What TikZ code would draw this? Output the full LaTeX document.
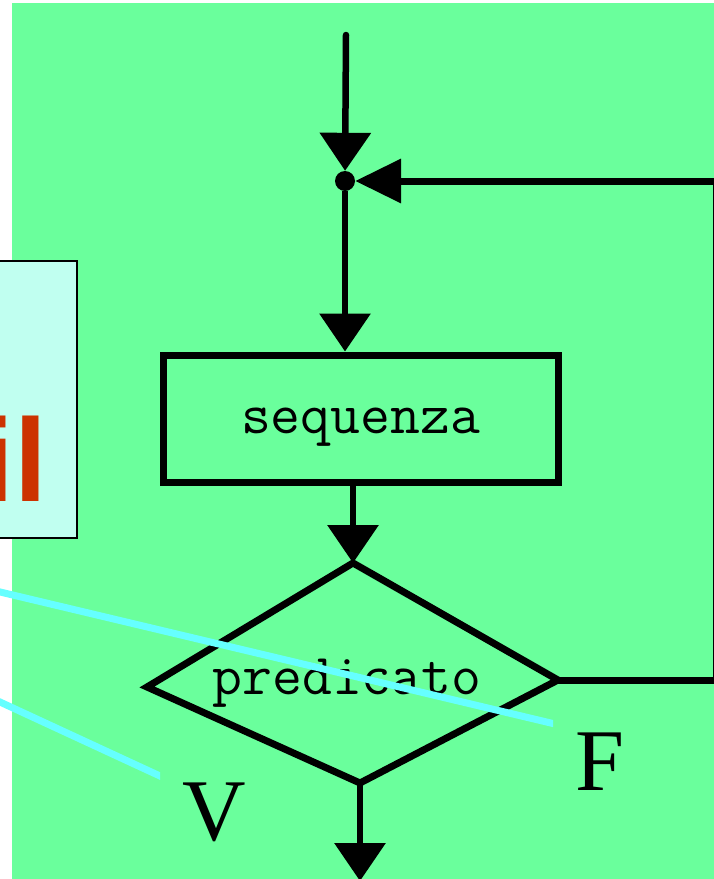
\documentclass[tikz,border=0pt]{standalone}
\usepackage{fontspec}
\setmainfont{Liberation Serif}
\newfontfamily\sansbold{Liberation Sans}
\usetikzlibrary{arrows.meta}
\definecolor{bg}{RGB}{106,255,156}
\definecolor{notefill}{RGB}{192,255,240}
\definecolor{notered}{RGB}{204,51,0}
\definecolor{cyanl}{RGB}{102,255,255}
\begin{document}
\begin{tikzpicture}[x=1pt,y=-1pt,
  conn/.style={draw=black, line width=6.5pt},
  varr/.style={conn, -{Triangle[length=38pt,width=50pt]}},
  harr/.style={conn, line width=7pt, -{Triangle[length=46pt,width=43pt]}},
  proc/.style={draw=black, line width=7pt, minimum width=395pt, minimum height=127pt,
    inner sep=0pt, font=\fontsize{58}{60}\selectfont\ttfamily, text height=29pt, text depth=0pt},
  dec/.style={draw=black, line width=7pt, line join=miter},
  mono/.style={inner sep=0pt, anchor=base, font=\fontsize{58}{60}\selectfont\ttfamily},
  lbl/.style={inner sep=0pt, anchor=base, font=\fontsize{88}{90}\selectfont},
  notebox/.style={draw=black, line width=2pt, fill=notefill, inner sep=0pt},
  cyanline/.style={draw=cyanl, line width=7pt}
]
\useasboundingbox (0,0) rectangle (714,879);
\clip (0,0) rectangle (714,879);
\fill[bg] (12,3) rectangle (714,879);

% note box on the left (cut by the frame)
\node[notebox, minimum width=117pt, minimum height=277pt] (note) at (18.5,399.5) {};
\node[inner sep=0pt, anchor=base east, text=notered,
      font=\fontsize{118}{120}\selectfont\sansbold\bfseries] (il) at (47,501) {il};

% flowchart
\coordinate (top) at (346,35);
\node[circle, fill=black, inner sep=0pt, minimum size=20pt] (j) at (345,181) {};
\node[proc] (seq) at (360.5,418.5) {sequenza};
\coordinate (dt) at (353,563);
\coordinate (dl) at (147,687);
\coordinate (dr) at (558,680);
\coordinate (db) at (360,783);
\draw[dec] (dt) -- (dr) -- (db) -- (dl) -- cycle;
\node[mono] (pred) at (347,694) {predicato};
\coordinate (rb) at (716.5,680);
\coordinate (rt) at (716.5,181);
\coordinate (bot) at (360,881);

\draw[varr, line cap=round] (top) -- (j);
\draw[harr] (dr) -- (rb) -- (rt) -- (j);
\draw[varr] (j) -- (j |- seq.north);
\draw[varr] (dt |- seq.south) -- (dt);
\draw[varr] (db) -- (bot);

\node[lbl] (V) at (214,840) {V};
\node[lbl] (F) at (600,790) {F};

% cyan strokes
\coordinate (c1a) at (-20,587.2);
\coordinate (c1b) at (600,734.7);
\coordinate (c2a) at (-20,692.75);
\coordinate (c2b) at (200,794.5);
\begin{scope}
  \clip (-30,0) rectangle (553,879);
  \draw[cyanline] (c1a) -- (c1b);
\end{scope}
\begin{scope}
  \clip (-30,0) rectangle (160,879);
  \draw[cyanline] (c2a) -- (c2b);
\end{scope}
\end{tikzpicture}
\end{document}
